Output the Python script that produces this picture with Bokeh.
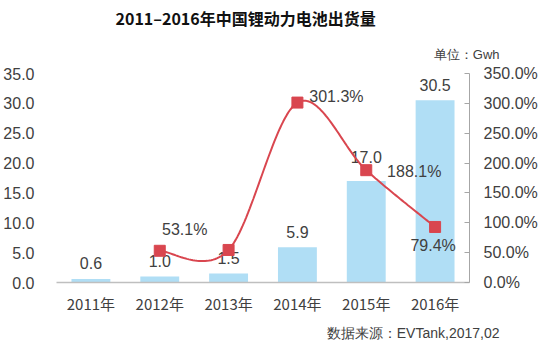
import numpy as np
from bokeh.plotting import figure
from bokeh.models import FactorRange, Range1d, LinearAxis, Title, FixedTicker, CustomJSTickFormatter, ColumnDataSource
from bokeh.core.properties import value
from bokeh.embed import file_html
from bokeh.resources import INLINE

# ---- data ----
years = ["2011年", "2012年", "2013年", "2014年", "2015年", "2016年"]
shipments = [0.6, 1.0, 1.5, 5.9, 17.0, 30.5]
shipment_labels = ["0.6", "1.0", "1.5", "5.9", "17.0", "30.5"]
growth_years = ["2012年", "2013年", "2014年", "2015年", "2016年"]
growth = [53.1, 54.5, 301.3, 188.1, 93.0]
growth_labels = ["53.1%", "", "301.3%", "188.1%", "79.4%"]
left_ticks = [0, 5, 10, 15, 20, 25, 30, 35]
right_ticks = [0, 50, 100, 150, 200, 250, 300, 350]

FONT = "Liberation Sans"
CJK = "Noto Sans CJK SC"
TXT = "#404040"
BAR = "#B0DEF5"
RED = "#D9464F"

p = figure(x_range=FactorRange(*years), y_range=Range1d(0, 35),
           width=554, height=350, output_backend="svg", toolbar_location=None,
           min_border_left=55, min_border_right=85, min_border_top=0, min_border_bottom=0)
p.outline_line_color = None
p.grid.visible = False
p.background_fill_color = "white"

p.extra_y_ranges = {"pct": Range1d(0, 350)}

# bars
src = ColumnDataSource(dict(x=years, y=shipments, t=shipment_labels,
                            off=[-16, -16, -16, -15, -24, -15]))
p.vbar(x="x", top="y", width=0.565, source=src, fill_color=BAR, line_color=None)
p.text(x="x", y="y", text="t", source=src, y_offset="off", text_align="center",
       text_baseline="middle", text_font=value(FONT), text_font_size="16px", text_color=TXT)

# smooth line (Excel-like bezier)
xs = np.array([years.index(g) + 0.5 for g in growth_years])
ys = np.array(growth, dtype=float)
P = np.column_stack([xs, ys])
n = len(P)
cx, cy = [], []
for i in range(n - 1):
    p0 = P[max(i - 1, 0)]
    p1 = P[i]
    p2 = P[i + 1]
    p3 = P[min(i + 2, n - 1)]
    c1 = p1 + (p2 - p0) / 6.0
    c2 = p2 - (p3 - p1) / 6.0
    t = np.linspace(0, 1, 40)[:, None]
    seg = (1 - t) ** 3 * p1 + 3 * (1 - t) ** 2 * t * c1 + 3 * (1 - t) * t ** 2 * c2 + t ** 3 * p2
    cx.extend(seg[:, 0]); cy.extend(seg[:, 1])
p.line(cx, cy, y_range_name="pct", line_color=RED, line_width=2)
p.scatter(xs, ys, y_range_name="pct", marker="square", size=11, fill_color=RED, line_color=RED)

gsrc = ColumnDataSource(dict(x=xs, y=ys, t=growth_labels,
                             xo=[25, 0, 39, 48, -2], yo=[-21, 0, -6, 1, 19]))
p.text(x="x", y="y", text="t", source=gsrc, x_offset="xo", y_offset="yo", y_range_name="pct",
       text_align="center", text_baseline="middle", text_font=value(FONT),
       text_font_size="16px", text_color=TXT)

# axes
xa = p.xaxis[0]
xa.axis_line_color = "#BFBFBF"
xa.axis_line_width = 1.5
xa.major_tick_line_color = None
xa.minor_tick_line_color = None
xa.major_label_text_font = CJK
xa.major_label_text_font_size = "15px"
xa.major_label_text_color = TXT
xa.major_label_standoff = 4

ya = p.yaxis[0]
ya.ticker = FixedTicker(ticks=left_ticks)
ya.formatter = CustomJSTickFormatter(code="return tick.toFixed(1);")
ya.axis_line_color = None
ya.major_tick_line_color = None
ya.minor_tick_line_color = None
ya.major_label_text_font = FONT
ya.major_label_text_font_size = "16px"
ya.major_label_text_color = TXT
ya.major_label_standoff = 16

ra = LinearAxis(y_range_name="pct", ticker=FixedTicker(ticks=right_ticks),
                formatter=CustomJSTickFormatter(code="return tick.toFixed(1) + '%';"))
ra.axis_line_color = "#A6A6A6"
ra.major_tick_line_color = "#A6A6A6"
ra.major_tick_in = 5
ra.major_tick_out = 0
ra.minor_tick_line_color = None
ra.major_label_text_font = FONT
ra.major_label_text_font_size = "16px"
ra.major_label_text_color = TXT
ra.major_label_standoff = 14
p.add_layout(ra, "right")

# texts
p.title = Title(text="2011–2016年中国锂动力电池出货量", align="left", offset=59, standoff=11,
                vertical_align="top",
                text_font=CJK, text_font_size="16px", text_font_style="bold",
                text_color="#111111")
p.add_layout(Title(text="单位：Gwh", align="right", offset=-30, standoff=19,
                   vertical_align="top",
                   text_font=FONT, text_font_size="13px", text_font_style="normal",
                   text_color=TXT), "above")
p.add_layout(Title(text="数据来源：EVTank,2017,02", align="right", offset=-30, standoff=16,
                   vertical_align="top",
                   text_font=FONT, text_font_size="14px", text_font_style="normal",
                   text_color=TXT), "below")

open("out.html", "w").write(file_html(p, INLINE))
